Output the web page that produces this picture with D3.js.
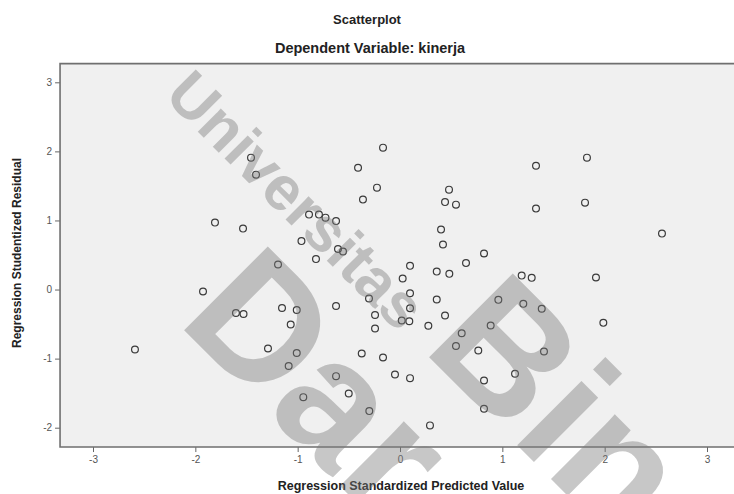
<!DOCTYPE html>
<html><head><meta charset="utf-8">
<script src="https://cdn.jsdelivr.net/npm/d3@7"></script>
<style>body{margin:0;background:#fff}svg{display:block}</style>
</head><body>
<svg id="chart" width="734" height="494"></svg>
<script>
const title = "Scatterplot";
const subtitle = "Dependent Variable: kinerja";
const xLabel = "Regression Standardized Predicted Value";
const yLabel = "Regression Studentized Residual";
const xTicks = [-3, -2, -1, 0, 1, 2, 3];
const yTicks = [-2, -1, 0, 1, 2, 3];

// Regression Standardized Predicted Value
const predicted = [
  -0.166, -1.456, -0.410, -1.407, -0.225, -0.362, -1.808, -1.534, -0.889, -0.792,
  -0.728, -0.625, -0.963, -0.606, -0.557, -0.821, -1.192, 1.329, 1.827, 0.479,
  0.440, 0.547, 1.329, 1.808, 0.401, 0.420, 0.821, 0.645, 2.560, -1.925,
  -1.603, -1.529, -1.153, -1.009, -1.068, -0.625, -0.303, -0.244, -0.244, -2.590,
  -1.290, -1.009, -1.088, -0.374, -0.166, -0.049, -0.625, -0.501, -0.945, -0.300,
  0.098, 0.359, 0.482, 0.026, 1.189, 1.287, 1.915, 0.098, 0.359, 0.961,
  1.205, 1.385, 0.098, 0.440, 0.017, 0.091, 0.277, 0.886, 1.987, 0.603,
  0.547, 0.765, 1.407, 0.098, 0.821, 1.124, 0.821, 0.293
];
// Regression Studentized Residual
const residual = [
  2.054, 1.909, 1.764, 1.663, 1.475, 1.302, 0.969, 0.882, 1.085, 1.085,
  1.041, 0.991, 0.701, 0.586, 0.550, 0.441, 0.362, 1.793, 1.909, 1.446,
  1.266, 1.229, 1.172, 1.258, 0.868, 0.651, 0.521, 0.383, 0.810, -0.029,
  -0.340, -0.354, -0.268, -0.297, -0.506, -0.239, -0.130, -0.369, -0.564, -0.868,
  -0.853, -0.918, -1.106, -0.926, -0.983, -1.229, -1.254, -1.504, -1.558, -1.760,
  0.343, 0.260, 0.227, 0.159, 0.202, 0.169, 0.174, -0.054, -0.145, -0.149,
  -0.207, -0.279, -0.270, -0.376, -0.448, -0.458, -0.525, -0.521, -0.482, -0.632,
  -0.817, -0.882, -0.897, -1.283, -1.316, -1.219, -1.725, -1.967
];

const points = predicted.map((p, i) => ({x: p, y: residual[i]}));

const svg = d3.select("#chart");
const font = "'Liberation Sans', Arial, sans-serif";

const x = d3.scaleLinear().domain([-3, 3]).range([93, 707]);
const y = d3.scaleLinear().domain([-2, 3]).range([427.7, 82.3]);

const frameX0 = x(-3.322), frameX1 = x(3.33);
const frameY0 = y(3.27), frameY1 = y(-2.28);

// titles
svg.append("text").attr("x", 367).attr("y", 24).attr("text-anchor", "middle")
  .attr("font-family", font).attr("font-weight", "bold").attr("font-size", 13)
  .attr("fill", "#222").text(title);
svg.append("text").attr("x", 370).attr("y", 53).attr("text-anchor", "middle")
  .attr("font-family", font).attr("font-weight", "bold").attr("font-size", 14.5)
  .attr("fill", "#222").text(subtitle);

// plot background
svg.append("rect").attr("x", frameX0).attr("y", frameY0)
  .attr("width", frameX1 - frameX0).attr("height", frameY1 - frameY0)
  .attr("fill", "#f0f0f0");

// axes
const yAxis = d3.axisLeft(y).tickValues(yTicks).tickSize(5).tickPadding(3).tickFormat(d3.format("d"));
const xAxis = d3.axisBottom(x).tickValues(xTicks).tickSize(5).tickPadding(4).tickFormat(d3.format("d"));

const gy = svg.append("g").attr("transform", `translate(${frameX0},0)`).call(yAxis);
const gx = svg.append("g").attr("transform", `translate(0,${frameY1})`).call(xAxis);
[gx, gy].forEach(g => {
  g.select(".domain").remove();
  g.selectAll(".tick line").attr("stroke", "#666").attr("stroke-width", 1);
  g.selectAll(".tick text").attr("font-family", font).attr("font-size", 10).attr("fill", "#555");
});
gx.selectAll(".tick text").text(d => d < 0 ? "-" + Math.abs(d) : d);
gy.selectAll(".tick text").text(d => d < 0 ? "-" + Math.abs(d) : d);

// frame
svg.append("path")
  .attr("d", `M${frameX1},${frameY0}H${frameX0}V${frameY1}H${frameX1}`)
  .attr("fill", "none").attr("stroke", "#6f6f6f").attr("stroke-width", 1.6);

// axis titles
svg.append("text").attr("x", 401).attr("y", 490).attr("text-anchor", "middle")
  .attr("font-family", font).attr("font-weight", "bold").attr("font-size", 12.5)
  .attr("fill", "#222").text(xLabel);
svg.append("text").attr("transform", "translate(21,253) rotate(-90)").attr("text-anchor", "middle")
  .attr("font-family", font).attr("font-weight", "bold").attr("font-size", 12)
  .attr("fill", "#222").text(yLabel);

// points
svg.append("g").selectAll("circle").data(points).join("circle")
  .attr("cx", d => x(d.x)).attr("cy", d => y(d.y)).attr("r", 3.4)
  .attr("fill", "none").attr("stroke", "#3a3a3a").attr("stroke-width", 1.2);

// watermark overlay
const wm = svg.append("g").attr("fill", "#7a7a7a").attr("fill-opacity", 0.42)
  .attr("font-family", font).attr("font-weight", "bold").attr("pointer-events", "none");
wm.append("text").attr("transform", "translate(163,97) rotate(45)").attr("font-size", 62).text("Universitas");
wm.append("text").attr("transform", "translate(176,322) rotate(45)").attr("font-size", 172).text("Dar");
wm.append("text").attr("transform", "translate(421,349) rotate(45)").attr("font-size", 172).text("Bin");
</script>
</body></html>
